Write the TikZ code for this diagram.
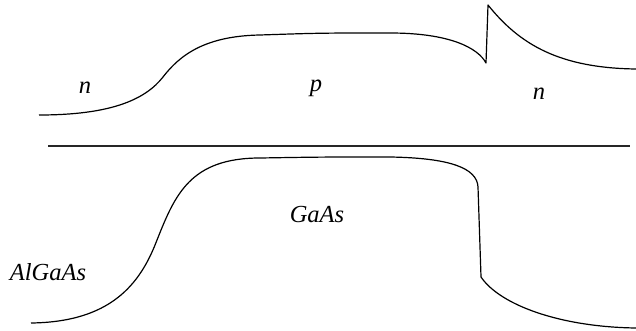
\documentclass[tikz,border=0pt]{standalone}
\usepackage{fontspec}
\setmainfont{Liberation Serif}
\usepackage{tikz}
\usetikzlibrary{positioning}
\tikzset{
  bandline/.style={
    draw=black,line width=1.2pt,line join=round
  },
  sepline/.style={
    draw=black!85,line width=1.3pt
  },
  layerlbl/.style={
    font=\fontsize{24.5}{29}\selectfont\itshape,
    anchor=base,inner sep=0pt,text=black
  },
}
\begin{document}
\begin{tikzpicture}[x=1pt,y=-1pt]
  \useasboundingbox (0,0) rectangle (636,331);
  % upper band
  \draw[bandline] (39,115) .. controls (110,115) and (145,100) .. (163,77)
    .. controls (180,55) and (205,36) .. (260,35)
    .. controls (320,33) .. (390,33)
    .. controls (450,33) and (478,48) .. (486,63)
    -- (488,5)
    .. controls (520,45) and (560,68) .. (636,69);
  \node[layerlbl] (nleft) at (85,94) {n};
  \node[layerlbl] (pmid) at (316,92) {p};
  \node[layerlbl] (nright) at (539,100) {n};
  \draw[sepline] (48,146) -- (630,146);
  % lower band
  \draw[bandline] (31,323) .. controls (110,322) and (140,285) .. (157,240)
    .. controls (175,195) and (190,158) .. (260,158)
    .. controls (320,157) .. (390,157)
    .. controls (450,158) and (477,168) .. (478,187)
    -- (481,277)
    .. controls (500,305) and (560,327) .. (636,328);
  \node[layerlbl] (gaas) at (317,222) {GaAs};
  \node[layerlbl] (algaas) at (48,280) {AlGaAs};
\end{tikzpicture}
\end{document}
